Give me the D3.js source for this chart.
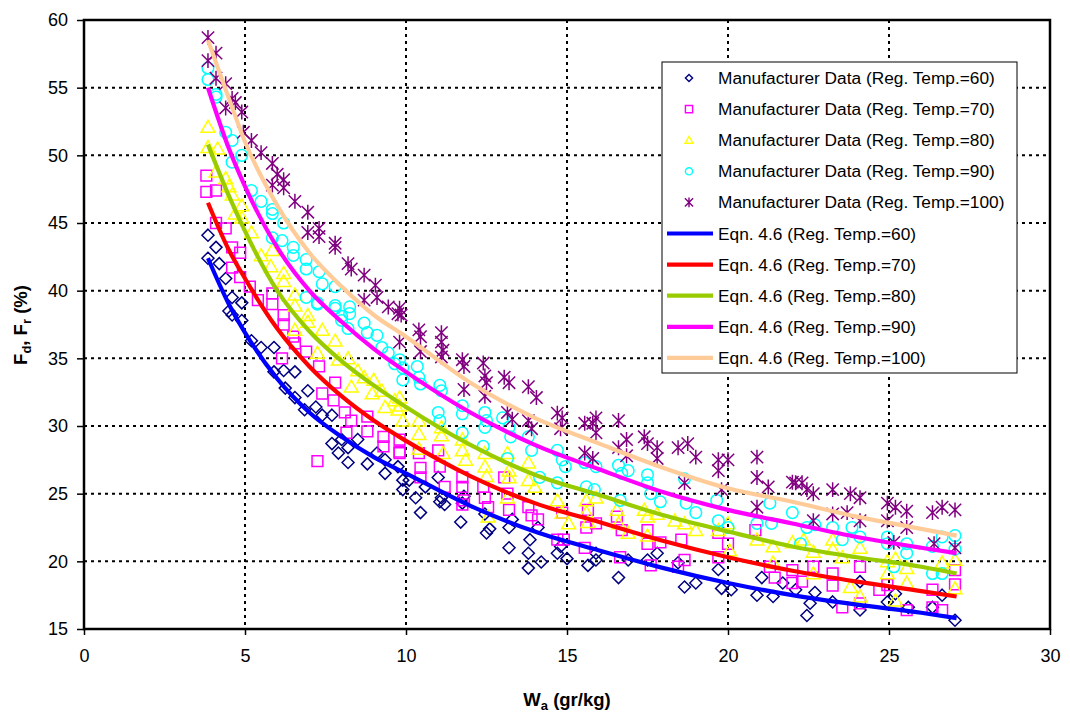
<!DOCTYPE html>
<html><head><meta charset="utf-8">
<script src="https://cdn.jsdelivr.net/npm/d3@7"></script>
<style>body{margin:0;background:#fff;} text{font-family:"Liberation Sans",Arial,sans-serif;}</style>
</head><body><svg id="c" width="1070" height="713"></svg>
<script>
const xTicks=[0,5,10,15,20,25,30];
const yTicks=[15,20,25,30,35,40,45,50,55,60];
const temps=[60,70,80,90,100];
const d60=[[3.85,44.1],[4.1,43.2],[3.85,42.4],[4.2,42.0],[4.4,40.9],[4.6,39.5],[4.9,39.1],[4.5,38.5],[4.6,38.2],[4.9,37.8],[5.2,36.3],[5.5,35.8],[5.9,35.8],[5.9,34.0],[6.2,34.1],[6.55,34.0],[6.25,32.8],[6.55,32.1],[6.95,32.6],[6.85,31.2],[7.2,31.4],[7.4,30.8],[7.7,30.8],[7.7,28.7],[8.0,29.0],[7.9,28.0],[8.2,28.4],[8.5,29.0],[8.2,27.3],[8.8,27.2],[9.1,28.0],[9.35,26.5],[9.35,27.5],[9.75,27.0],[9.9,25.3],[9.9,26.0],[10.1,26.0],[10.3,24.7],[10.45,23.6],[10.6,25.5],[11.0,26.2],[11.1,24.7],[11.05,24.4],[11.2,24.2],[11.7,22.9],[11.75,24.3],[11.8,24.8],[12.5,22.1],[12.6,22.4],[12.45,23.5],[13.2,21.0],[13.2,22.5],[13.3,23.1],[13.8,20.6],[13.85,21.6],[14.1,22.5],[13.8,19.5],[14.2,19.95],[14.7,20.6],[14.8,21.1],[15.0,20.2],[15.65,19.7],[15.9,20.6],[15.9,20.1],[16.6,18.8],[16.9,20.1],[17.5,20.1],[17.8,20.6],[18.65,18.1],[19.0,18.4],[18.45,19.9],[19.7,19.4],[19.8,18.0],[20.1,17.9],[20.9,17.5],[21.4,17.4],[21.05,18.8],[21.7,18.4],[22.1,17.9],[22.45,16.0],[22.7,17.7],[22.55,16.9],[23.25,17.0],[24.1,18.5],[24.1,16.4],[24.95,17.0],[25.2,17.6],[25.6,16.6],[26.35,16.6],[26.65,17.5],[27.05,15.65]];
const d70=[[3.8,48.5],[3.8,47.3],[4.1,47.4],[4.1,45.0],[4.4,44.6],[4.6,43.2],[4.85,42.8],[4.6,41.7],[4.85,41.0],[5.15,40.3],[5.85,39.8],[5.85,39.0],[5.4,39.3],[6.2,38.2],[6.2,37.5],[6.5,36.6],[6.55,36.1],[6.9,35.5],[7.3,34.4],[6.15,35.0],[7.8,33.2],[7.75,31.9],[7.4,32.4],[8.1,31.0],[8.3,30.4],[8.15,29.5],[8.8,30.7],[8.8,29.6],[9.3,29.2],[9.3,28.5],[9.8,28.0],[7.25,27.4],[9.8,29.0],[9.8,28.1],[10.4,28.0],[10.45,26.9],[10.45,26.2],[11.0,28.2],[11.05,27.0],[11.2,25.5],[11.75,26.2],[11.75,25.5],[11.8,24.5],[11.75,24.2],[12.4,25.5],[12.45,24.7],[12.55,24.0],[13.05,26.2],[13.15,25.0],[13.2,23.8],[13.8,24.0],[13.9,23.4],[14.1,23.1],[14.7,21.6],[14.85,23.6],[14.9,21.6],[15.55,21.0],[15.6,22.5],[15.65,23.8],[15.9,22.8],[16.55,23.3],[16.7,22.3],[16.65,20.3],[17.5,22.3],[17.5,21.3],[17.6,19.7],[17.9,21.4],[18.45,19.6],[18.65,20.1],[18.55,21.6],[19.7,22.1],[19.7,20.3],[20.0,21.3],[20.85,22.3],[21.3,19.6],[21.45,18.8],[22.0,18.4],[22.0,19.35],[22.3,18.5],[22.65,19.6],[23.25,19.1],[23.25,18.2],[23.55,16.6],[24.1,19.6],[24.1,16.9],[24.95,18.25],[24.7,17.9],[25.55,16.4],[26.35,17.9],[26.35,16.6],[26.65,16.4],[27.05,19.35],[27.05,18.3]];
const d80=[[3.85,52.1],[3.85,50.6],[4.15,50.5],[4.1,48.8],[4.4,48.3],[4.5,47.7],[4.6,47.1],[4.9,46.3],[4.9,45.4],[4.7,45.7],[5.2,44.3],[5.5,42.6],[5.85,43.0],[5.8,41.8],[6.2,41.3],[6.2,40.7],[6.55,39.7],[6.55,38.9],[6.95,38.2],[6.55,37.1],[6.95,37.7],[7.4,37.1],[7.8,36.3],[7.25,35.4],[7.9,34.9],[8.2,35.0],[8.5,34.1],[8.3,32.9],[8.7,33.6],[9.0,33.4],[9.25,32.6],[9.65,31.9],[9.35,31.4],[8.95,32.4],[9.75,31.2],[9.8,32.1],[9.8,31.5],[9.9,30.4],[10.4,30.4],[10.4,29.4],[10.4,28.3],[11.1,29.9],[11.1,29.3],[11.15,28.0],[11.75,29.0],[11.75,28.2],[11.85,27.5],[12.45,28.0],[12.45,27.0],[12.5,26.3],[12.55,23.3],[13.15,28.0],[13.2,26.7],[13.2,26.2],[13.15,24.7],[13.8,27.3],[13.8,26.0],[14.0,25.5],[14.7,24.5],[14.85,23.6],[15.05,22.8],[15.6,24.5],[15.6,23.6],[15.65,22.9],[15.9,24.7],[16.55,23.8],[16.6,22.8],[16.9,22.1],[17.4,23.8],[17.5,23.3],[17.8,23.5],[17.5,21.9],[18.35,23.0],[18.65,22.8],[19.0,22.3],[19.7,22.3],[20.0,22.8],[20.05,20.8],[20.9,21.6],[21.4,21.1],[21.4,19.9],[22.0,21.4],[22.35,21.6],[22.65,20.7],[22.65,19.1],[23.25,21.6],[23.25,20.9],[23.55,20.3],[23.8,18.1],[24.1,17.4],[24.1,21.0],[24.95,20.0],[25.2,20.2],[24.95,19.1],[25.2,17.1],[25.55,18.4],[25.55,19.5],[26.65,19.9],[27.05,20.1],[27.05,18.0]];
const d90=[[3.85,56.45],[3.85,55.6],[4.1,54.5],[4.1,54.3],[4.4,51.7],[4.6,51.1],[4.9,50.0],[4.6,49.5],[5.2,47.4],[5.5,46.6],[5.85,46.0],[5.85,45.7],[6.2,45.0],[5.85,43.9],[6.15,43.7],[6.5,43.2],[6.5,42.6],[6.9,42.3],[6.9,41.6],[7.3,41.4],[7.4,40.5],[7.8,40.3],[6.9,39.5],[7.25,39.1],[7.8,38.7],[8.25,38.8],[8.0,38.1],[7.25,39.0],[7.8,38.9],[8.0,37.8],[8.25,38.3],[8.2,37.2],[8.7,37.6],[8.8,36.9],[9.1,36.7],[9.25,35.8],[9.45,35.4],[9.65,34.6],[9.9,33.4],[9.8,34.9],[9.9,34.3],[10.35,34.4],[10.4,33.6],[10.45,33.1],[11.05,33.0],[11.1,32.6],[11.0,31.0],[11.05,30.4],[11.75,31.5],[11.75,30.9],[11.75,29.5],[12.45,31.0],[12.5,30.4],[12.45,29.9],[12.4,28.5],[13.0,30.6],[13.2,29.9],[13.25,29.2],[13.15,27.6],[13.8,29.2],[13.9,28.2],[14.15,26.2],[14.7,28.2],[14.85,27.5],[14.95,27.0],[14.7,25.8],[15.55,27.3],[15.6,25.5],[15.85,25.3],[15.9,27.0],[16.6,27.1],[16.7,26.5],[16.9,26.7],[16.65,24.5],[17.5,26.4],[17.5,25.8],[17.6,25.0],[17.9,24.4],[18.65,26.1],[18.7,24.3],[19.0,23.6],[19.65,24.5],[19.7,23.0],[20.0,22.5],[20.9,22.8],[21.3,24.3],[21.35,22.8],[22.0,23.6],[22.45,22.5],[22.7,22.7],[22.25,21.3],[23.25,22.5],[23.55,21.6],[24.1,21.8],[23.85,22.5],[24.95,21.8],[24.95,21.3],[25.15,19.6],[25.55,21.3],[25.55,20.6],[26.35,21.1],[26.35,19.1],[26.65,19.1],[26.65,21.8],[27.05,21.9],[27.05,20.9]];
const d100=[[3.85,58.7],[3.85,57.0],[4.1,57.55],[4.1,55.7],[4.4,55.3],[4.6,54.2],[4.7,53.9],[4.4,53.5],[4.9,53.2],[4.95,51.7],[5.2,51.1],[5.5,50.2],[5.85,49.4],[5.85,47.8],[6.2,48.2],[6.2,47.6],[6.0,48.6],[6.55,46.6],[6.95,45.8],[7.3,44.6],[6.95,44.3],[7.3,44.0],[7.8,43.5],[7.8,43.2],[8.2,42.0],[8.3,41.6],[8.7,41.15],[9.05,40.4],[8.7,39.3],[9.1,39.5],[9.45,38.8],[9.75,38.3],[9.8,38.7],[9.85,38.2],[9.8,36.2],[10.4,37.1],[10.45,36.6],[10.45,35.5],[11.1,36.9],[11.1,36.2],[11.15,35.6],[11.1,35.1],[11.75,34.9],[11.8,34.4],[11.8,32.7],[12.4,34.65],[12.45,33.7],[12.5,33.2],[12.45,32.2],[13.05,33.6],[13.2,33.2],[13.15,31.0],[13.3,30.5],[13.8,32.9],[14.05,32.1],[13.8,30.4],[13.9,29.8],[14.7,30.95],[14.85,30.6],[14.8,29.8],[15.55,30.2],[15.8,30.2],[15.55,28.0],[15.8,27.6],[15.9,30.6],[15.9,29.5],[16.6,30.4],[16.6,28.4],[16.85,29.0],[16.85,27.8],[17.4,29.2],[17.5,28.7],[17.8,28.4],[17.8,27.6],[18.45,28.4],[18.75,28.7],[19.0,27.7],[18.65,25.8],[19.7,27.5],[19.7,26.7],[20.0,27.5],[19.8,25.3],[20.9,27.7],[20.9,26.2],[21.25,25.5],[20.9,24.0],[22.1,25.8],[22.0,25.85],[22.3,25.8],[22.45,25.3],[22.65,25.0],[22.65,23.0],[23.25,25.3],[23.8,25.0],[24.1,24.7],[23.7,23.6],[24.1,23.0],[23.25,23.5],[24.95,24.3],[24.95,23.0],[25.2,24.0],[25.55,23.7],[25.55,22.5],[25.15,21.4],[26.35,23.6],[26.65,24.0],[27.05,23.8],[27.05,21.0],[26.4,21.3]];
const eqX=[3.85,4.5,5,6,7,8,9,10,12,14,16,18,20,22,24,26,27.1];
const eq60=[42.4,39.0,36.9,33.5,31.0,29.2,27.7,26.5,24.1,22.2,20.8,19.5,18.4,17.5,16.8,16.2,15.8];
const eq70=[46.5,43.0,40.9,37.2,34.4,32.2,30.4,28.9,26.3,24.3,22.9,21.5,20.3,19.3,18.5,17.8,17.4];
const eq80=[50.8,47.0,44.4,40.0,37.0,34.8,33.0,31.4,28.6,26.4,24.9,23.4,22.2,21.1,20.3,19.6,19.1];
const eq90=[55.0,50.5,47.7,43.2,40.0,37.7,35.7,34.0,31.0,28.6,26.8,25.1,23.8,22.8,21.8,21.0,20.6];
const eq100=[58.5,54.2,51.0,46.3,42.8,40.3,38.2,36.6,33.2,30.6,28.7,26.9,25.4,24.4,23.3,22.4,21.9];
const markerColors=["#000080","#FF00FF","#FFFF00","#00FFFF","#800080"];
const lineColors=["#0000FF","#FF0000","#99CC00","#FF00FF","#FFCC99"];
const markerKinds=["diamond","square","triangle","circle","star"];

const svg=d3.select("#c");
const L=84,R=1050,T=20,B=629;
const x=d3.scaleLinear().domain([0,30]).range([L,R]);
const y=d3.scaleLinear().domain([15,60]).range([B,T]);

const g=svg.append("g");
g.selectAll(".gx").data(xTicks.filter(v=>v>0&&v<30)).enter().append("line")
 .attr("x1",d=>x(d)).attr("x2",d=>x(d)).attr("y1",T).attr("y2",B)
 .attr("stroke","#000").attr("stroke-width",2).attr("stroke-dasharray","3,4");
g.selectAll(".gy").data(yTicks.filter(v=>v>15&&v<60)).enter().append("line")
 .attr("y1",d=>y(d)).attr("y2",d=>y(d)).attr("x1",L).attr("x2",R)
 .attr("stroke","#000").attr("stroke-width",2).attr("stroke-dasharray","3,4");

function symPath(kind,s){
  if(kind==="diamond") return `M0,${-s}L${s},0L0,${s}L${-s},0Z`;
  if(kind==="square") return `M${-s},${-s}H${s}V${s}H${-s}Z`;
  if(kind==="triangle") return `M0,${-s*1.05}L${s*1.1},${s*0.85}L${-s*1.1},${s*0.85}Z`;
  if(kind==="circle") return `M${s},0A${s},${s} 0 1,1 ${-s},0A${s},${s} 0 1,1 ${s},0Z`;
  const a=s*0.95;
  return `M0,${-s*1.15}V${s*1.15}M${-a},${-a}L${a},${a}M${a},${-a}L${-a},${a}`;
}
const sizes=[6,5.4,6.3,5.8,6.5];
const scat=[d60,d70,d80,d90,d100];
scat.forEach((data,i)=>{
  svg.append("g").selectAll("path").data(data).enter().append("path")
   .attr("transform",d=>`translate(${x(d[0])},${y(d[1])})`)
   .attr("d",symPath(markerKinds[i],sizes[i]))
   .attr("fill","none").attr("stroke",markerColors[i]).attr("stroke-width",1.5);
});
const eqs=[eq60,eq70,eq80,eq90,eq100];
const line=d3.line().x(d=>x(d[0])).y(d=>y(d[1])).curve(d3.curveMonotoneX);
eqs.forEach((vals,i)=>{
  svg.append("path").datum(eqX.map((v,j)=>[v,vals[j]]))
   .attr("d",line).attr("fill","none").attr("stroke",lineColors[i]).attr("stroke-width",4.2);
});

svg.append("rect").attr("x",L).attr("y",T).attr("width",R-L).attr("height",B-T)
 .attr("fill","none").attr("stroke","#000").attr("stroke-width",2.5);

const xa=svg.append("g").attr("transform",`translate(0,${B})`)
 .call(d3.axisBottom(x).tickValues(xTicks).tickSize(6).tickPadding(14).tickFormat(d3.format("d")));
const ya=svg.append("g").attr("transform",`translate(${L},0)`)
 .call(d3.axisLeft(y).tickValues(yTicks).tickSize(7).tickPadding(9).tickFormat(d3.format("d")));
[xa,ya].forEach(a=>{a.select(".domain").remove();
  a.selectAll("line").attr("stroke","#000").attr("stroke-width",1.5);
  a.selectAll("text").attr("font-size",18).attr("fill","#000").attr("font-family","Liberation Sans, Arial, sans-serif");});

const xt=svg.append("text").attr("x",567).attr("y",706).attr("text-anchor","middle")
 .attr("font-size",18.5).attr("font-weight","bold");
xt.append("tspan").text("W");
xt.append("tspan").attr("dy",4).attr("font-size",13).text("a");
xt.append("tspan").attr("dy",-4).text(" (gr/kg)");
const yt=svg.append("text").attr("transform","translate(27,325) rotate(-90)").attr("text-anchor","middle")
 .attr("font-size",18.5).attr("font-weight","bold");
yt.append("tspan").text("F");
yt.append("tspan").attr("dy",4).attr("font-size",13).text("d");
yt.append("tspan").attr("dy",-4).text(", F");
yt.append("tspan").attr("dy",4).attr("font-size",13).text("r");
yt.append("tspan").attr("dy",-4).text(" (%)");

const lg=svg.append("g");
lg.append("rect").attr("x",662).attr("y",62).attr("width",355).attr("height",311)
 .attr("fill","#fff").attr("stroke","#000").attr("stroke-width",1);
temps.forEach((t,i)=>{
  const yy=78+i*31.1;
  lg.append("path").attr("transform",`translate(689,${yy})`).attr("d",symPath(markerKinds[i],markerKinds[i]==="star"?4.3:3.6))
   .attr("fill","none").attr("stroke",markerColors[i]).attr("stroke-width",1.4);
  lg.append("text").attr("x",718).attr("y",yy+6).attr("font-size",17.3).text(`Manufacturer Data (Reg. Temp.=${t})`);
});
temps.forEach((t,i)=>{
  const yy=78+(i+5)*31.1;
  lg.append("line").attr("x1",667).attr("x2",713).attr("y1",yy).attr("y2",yy)
   .attr("stroke",lineColors[i]).attr("stroke-width",4.2);
  lg.append("text").attr("x",718).attr("y",yy+6).attr("font-size",17.3).text(`Eqn. 4.6 (Reg. Temp.=${t})`);
});
</script></body></html>
